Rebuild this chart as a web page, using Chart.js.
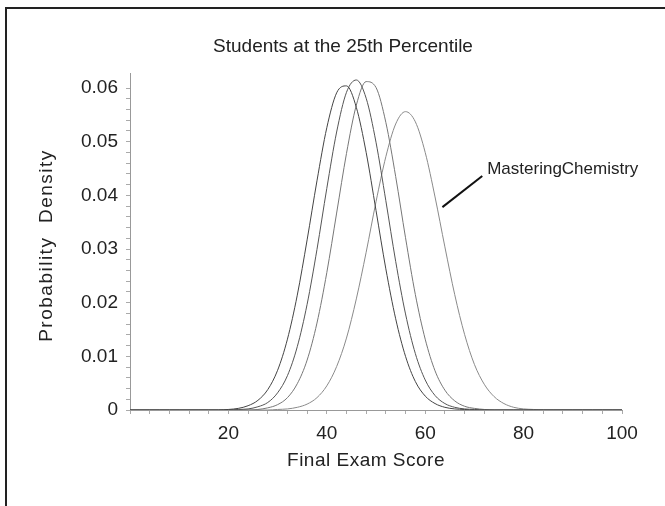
<!DOCTYPE html>
<html>
<head>
<meta charset="utf-8">
<script src="https://cdn.jsdelivr.net/npm/chart.js@4.4.1/dist/chart.umd.min.js"></script>
<style>
  html, body { margin: 0; padding: 0; background: #fff; overflow: hidden; }
  #wrap { position: relative; width: 665px; height: 506px; overflow: hidden; }
  #frame { position: absolute; left: 5px; top: 7px; width: 700px; height: 600px;
           border-left: 2px solid #222; border-top: 2px solid #222; }
  canvas { position: absolute; left: 0; top: 0; }
</style>
</head>
<body>
<div id="wrap">
  <div id="frame"></div>
  <canvas id="chart" width="665" height="506"></canvas>
</div>
<script>
// final exam score, read every 2 points
const scores = [
  0, 2, 4, 6, 8, 10, 12, 14, 16, 18,
  20, 22, 24, 26, 28, 30, 32, 34, 36, 38,
  40, 42, 44, 46, 48, 50, 52, 54, 56, 58,
  60, 62, 64, 66, 68, 70, 72, 74, 76, 78,
  80, 82, 84, 86, 88, 90, 92, 94, 96, 98, 100
];

// probability density (left to right)
const groupA = [
  0, 0, 0, 0, 0, 0, 0, 0, 0, 0,
  0.0001, 0.0003, 0.0008, 0.0018, 0.0038, 0.0074, 0.0132, 0.0214, 0.0317, 0.0427,
  0.0526, 0.0591, 0.0604, 0.0564, 0.0480, 0.0372, 0.0263, 0.0170, 0.0100, 0.0053,
  0.0026, 0.0012, 0.0005, 0.0002, 0.0001, 0, 0, 0, 0, 0,
  0, 0, 0, 0, 0, 0, 0, 0, 0, 0, 0
];
const groupB = [
  0, 0, 0, 0, 0, 0, 0, 0, 0, 0,
  0, 0.0001, 0.0002, 0.0006, 0.0014, 0.0032, 0.0064, 0.0118, 0.0197, 0.0299,
  0.0413, 0.0518, 0.0592, 0.0615, 0.0581, 0.0499, 0.0390, 0.0277, 0.0179, 0.0105,
  0.0056, 0.0027, 0.0012, 0.0005, 0.0002, 0.0001, 0, 0, 0, 0,
  0, 0, 0, 0, 0, 0, 0, 0, 0, 0, 0
];
const groupC = [
  0, 0, 0, 0, 0, 0, 0, 0, 0, 0,
  0, 0, 0, 0.0001, 0.0004, 0.0010, 0.0023, 0.0049, 0.0093, 0.0162,
  0.0256, 0.0367, 0.0478, 0.0568, 0.0612, 0.0601, 0.0536, 0.0435, 0.0321, 0.0215,
  0.0132, 0.0073, 0.0037, 0.0017, 0.0007, 0.0003, 0.0001, 0, 0, 0,
  0, 0, 0, 0, 0, 0, 0, 0, 0, 0, 0
];
const masteringChem = [
  0, 0, 0, 0, 0, 0, 0, 0, 0, 0,
  0, 0, 0, 0, 0, 0.0001, 0.0002, 0.0005, 0.0011, 0.0023,
  0.0045, 0.0081, 0.0134, 0.0207, 0.0294, 0.0388, 0.0472, 0.0533, 0.0556, 0.0537,
  0.0480, 0.0397, 0.0304, 0.0215, 0.0141, 0.0085, 0.0048, 0.0025, 0.0012, 0.0005,
  0.0002, 0.0001, 0, 0, 0, 0, 0, 0, 0, 0, 0
];

const seriesNames = ['Group A', 'Group B', 'Group C', 'MasteringChemistry'];
const yMajorTicks = ['0', '0.01', '0.02', '0.03', '0.04', '0.05', '0.06'];
const xMajorTicks = ['20', '40', '60', '80', '100'];

const chartTitle = 'Students at the 25th Percentile';
const xTitle = 'Final Exam Score';
const yTitle = 'Probability  Density';

// callout (data units): leader line and label
const calloutText = 'MasteringChemistry';
const calloutFrom = [63.5, 0.0378];
const calloutTo = [71.6, 0.0436];
const calloutLabelAt = [72.6, 0.0449];

const FONT = '"Liberation Sans", Arial, sans-serif';

function toPoints(ys) {
  return scores.map((x, i) => ({ x: x, y: ys[i] }));
}

// titles are drawn by hand so they can sit where the original has them
const labels = {
  id: 'labels',
  afterDraw(chart) {
    const ctx = chart.ctx;
    const area = chart.chartArea;
    ctx.save();
    ctx.fillStyle = '#222';
    ctx.textAlign = 'center';
    ctx.textBaseline = 'middle';

    ctx.font = '19px ' + FONT;
    ctx.fillText(chartTitle, 343, 47);

    ctx.letterSpacing = '0.5px';
    ctx.fillText(xTitle, 366, 461);

    ctx.letterSpacing = '1.5px';
    ctx.translate(47, (area.top + area.bottom) / 2 + 4);
    ctx.rotate(-Math.PI / 2);
    ctx.fillText(yTitle, 0, 0);
    ctx.restore();
  }
};

const callout = {
  id: 'callout',
  afterDatasetsDraw(chart) {
    const { ctx, scales: { x, y } } = chart;
    ctx.save();
    ctx.strokeStyle = '#111';
    ctx.lineWidth = 2;
    ctx.beginPath();
    ctx.moveTo(x.getPixelForValue(calloutFrom[0]), y.getPixelForValue(calloutFrom[1]));
    ctx.lineTo(x.getPixelForValue(calloutTo[0]), y.getPixelForValue(calloutTo[1]));
    ctx.stroke();
    ctx.fillStyle = '#222';
    ctx.font = '17px ' + FONT;
    ctx.textAlign = 'left';
    ctx.textBaseline = 'middle';
    ctx.fillText(calloutText, x.getPixelForValue(calloutLabelAt[0]), y.getPixelForValue(calloutLabelAt[1]));
    ctx.restore();
  }
};

const lineColors = ['#444', '#555', '#777', '#8a8a8a'];
const datasets = [groupA, groupB, groupC, masteringChem].map((ys, i) => ({
  label: seriesNames[i],
  data: toPoints(ys),
  borderColor: lineColors[i],
  borderWidth: 1,
  pointRadius: 0,
  fill: false,
  cubicInterpolationMode: 'monotone'
}));

new Chart(document.getElementById('chart'), {
  type: 'line',
  data: { datasets: datasets },
  options: {
    responsive: false,
    animation: false,
    devicePixelRatio: 1,
    layout: { padding: { left: 0, right: 43, top: 73, bottom: 0 } },
    plugins: {
      legend: { display: false },
      tooltip: { enabled: false },
      title: { display: false }
    },
    scales: {
      x: {
        type: 'linear',
        min: 0,
        max: 100,
        afterFit(scale) { scale.height = 96; },
        border: { color: '#999', width: 1 },
        grid: { drawOnChartArea: false, drawTicks: true, tickLength: 4, color: '#aaa' },
        ticks: {
          stepSize: 4,
          autoSkip: false,
          maxRotation: 0,
          padding: 8,
          color: '#222',
          font: { family: FONT, size: 19 },
          callback: (v) => {
            const s = String(Math.round(v));
            return xMajorTicks.includes(s) ? s : '';
          }
        }
      },
      y: {
        type: 'linear',
        min: 0,
        max: 0.0628,
        afterFit(scale) { scale.width = 130; },
        afterBuildTicks(scale) {
          scale.ticks = scale.ticks.filter(t => Math.abs(t.value / 0.002 - Math.round(t.value / 0.002)) < 1e-6);
        },
        border: { color: '#999', width: 1 },
        grid: { drawOnChartArea: false, drawTicks: true, tickLength: 4, color: '#aaa' },
        ticks: {
          stepSize: 0.002,
          autoSkip: false,
          padding: 8,
          color: '#222',
          font: { family: FONT, size: 19 },
          callback: (v) => {
            const k = Math.round(v * 100);
            if (Math.abs(v * 100 - k) > 1e-6) return '';
            return yMajorTicks[k] !== undefined ? yMajorTicks[k] : '';
          }
        }
      }
    }
  },
  plugins: [callout, labels]
});
</script>
</body>
</html>
